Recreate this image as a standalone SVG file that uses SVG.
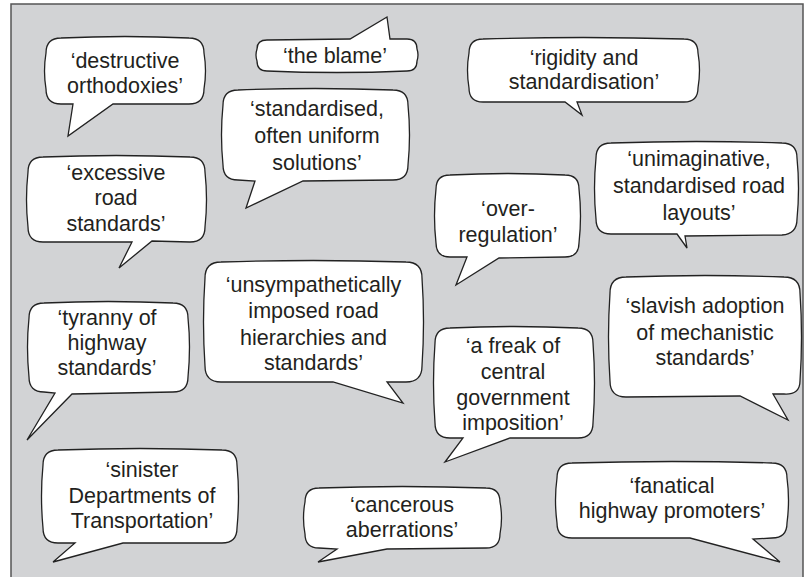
<svg xmlns="http://www.w3.org/2000/svg" width="805" height="577" viewBox="0 0 805 577">
<style>
.frame{fill:#d2d3d5;stroke:#555;stroke-width:1.5}
.bub{fill:#fff;stroke:#222;stroke-width:1.3;stroke-linejoin:miter}
.t{font-family:"Liberation Sans",Arial,Helvetica,sans-serif;font-size:21.5px;fill:#231f20;text-anchor:middle}
</style>
<rect class="frame" x="11" y="4" width="792" height="600"/>
<g id="connectors"/>
<g id="n1"><path class="bub" d="M61,38 Q125,35 189,38 Q204,38 204,53 Q207,71 204,89 Q204,104 189,104 L113,104 L68,136 L73,104 L61,104 Q46,104 46,89 Q43,71 46,53 Q46,38 61,38 Z"/>
<text class="t"><tspan x="125" y="68">‘destructive</tspan><tspan x="125" y="93">orthodoxies’</tspan></text></g>
<g id="n2"><path class="bub" d="M267,40 L350,39 L387,17 L390,39 L407,39 Q417,39 417,49 Q419,55 417,61 Q417,71 407,71 Q337,74 267,71 Q257,71 257,61 Q255,55 257,49 Q257,40 267,40 Z"/>
<text class="t"><tspan x="335" y="63">‘the blame’</tspan></text></g>
<g id="n3"><path class="bub" d="M483,39 Q583,36 684,39 Q698,39 698,53 Q701,70 698,88 Q698,102 684,102 L577,102 L582,115 L565,102 L483,102 Q469,102 469,88 Q466,70 469,53 Q469,39 483,39 Z"/>
<text class="t"><tspan x="584" y="65">‘rigidity and</tspan><tspan x="584" y="89">standardisation’</tspan></text></g>
<g id="n4"><path class="bub" d="M238,90 Q315,87 393,90 Q408,90 408,105 Q411,135 408,165 Q408,180 393,180 L303,181 L246,208 L255,181 L238,180 Q223,180 223,165 Q220,135 223,105 Q223,90 238,90 Z"/>
<text class="t"><tspan x="317" y="116">‘standardised,</tspan><tspan x="317" y="143">often uniform</tspan><tspan x="317" y="170">solutions’</tspan></text></g>
<g id="n5"><path class="bub" d="M43,157 Q116,154 190,157 Q205,157 205,172 Q208,200 205,227 Q205,242 190,242 L152,241 L119,268 L132,242 L43,242 Q28,242 28,227 Q25,200 28,172 Q28,157 43,157 Z"/>
<text class="t"><tspan x="116" y="180">‘excessive</tspan><tspan x="116" y="205">road</tspan><tspan x="116" y="231">standards’</tspan></text></g>
<g id="n6"><path class="bub" d="M450,175 Q507,172 565,175 Q579,175 579,189 Q582,216 579,243 Q579,257 565,257 L499,258 L456,285 L467,257 L450,257 Q436,257 436,243 Q433,216 436,189 Q436,175 450,175 Z"/>
<text class="t"><tspan x="508" y="216">‘over-</tspan><tspan x="508" y="242">regulation’</tspan></text></g>
<g id="n7"><path class="bub" d="M611,143 Q696,140 782,143 Q797,143 797,158 Q800,188 797,219 Q797,234 782,235 L685,236 L687,248 L677,234 L611,234 Q596,234 596,219 Q593,188 596,158 Q596,143 611,143 Z"/>
<text class="t"><tspan x="699" y="166">‘unimaginative,</tspan><tspan x="699" y="193">standardised road</tspan><tspan x="699" y="220">layouts’</tspan></text></g>
<g id="n8"><path class="bub" d="M44,303 Q108,300 173,303 Q188,303 188,318 Q191,347 188,377 Q188,392 173,392 L72,394 L27,440 L55,393 L44,392 Q29,392 29,377 Q26,347 29,318 Q29,303 44,303 Z"/>
<text class="t"><tspan x="107" y="325">‘tyranny of</tspan><tspan x="107" y="350">highway</tspan><tspan x="107" y="375">standards’</tspan></text></g>
<g id="n9"><path class="bub" d="M221,262 Q313,259 406,262 Q422,262 422,278 Q425,322 422,366 Q422,382 406,382 L387,382 L403,403 L333,382 L221,382 Q205,382 205,366 Q202,322 205,278 Q205,262 221,262 Z"/>
<text class="t"><tspan x="313.5" y="292">‘unsympathetically</tspan><tspan x="313.5" y="318">imposed road</tspan><tspan x="313.5" y="345">hierarchies and</tspan><tspan x="313.5" y="370">standards’</tspan></text></g>
<g id="n10"><path class="bub" d="M450,328 Q514,325 578,328 Q593,328 593,343 Q596,383 593,423 Q593,438 578,438 L510,438 L445,462 L463,438 L450,438 Q435,438 435,423 Q432,383 435,343 Q435,328 450,328 Z"/>
<text class="t"><tspan x="513" y="353">‘a freak of</tspan><tspan x="513" y="379">central</tspan><tspan x="513" y="405">government</tspan><tspan x="513" y="430">imposition’</tspan></text></g>
<g id="n11"><path class="bub" d="M626,277 Q705,274 784,277 Q800,277 800,293 Q803,337 800,381 Q800,395 784,394 L773,394 L788,420 L740,396 L626,397 Q610,397 610,381 Q607,337 610,293 Q610,277 626,277 Z"/>
<text class="t"><tspan x="705" y="313">‘slavish adoption</tspan><tspan x="705" y="340">of mechanistic</tspan><tspan x="705" y="365">standards’</tspan></text></g>
<g id="n12"><path class="bub" d="M58,450 Q140,447 222,450 Q237,450 237,465 Q240,496 237,528 Q237,543 222,543 L123,543 L53,562 L75,543 L58,543 Q43,543 43,528 Q40,496 43,465 Q43,450 58,450 Z"/>
<text class="t"><tspan x="142" y="477">‘sinister</tspan><tspan x="142" y="503">Departments of</tspan><tspan x="142" y="528">Transportation’</tspan></text></g>
<g id="n13"><path class="bub" d="M319,488 Q402,485 486,488 Q500,488 500,502 Q503,518 500,534 Q500,548 486,548 L387,549 L318,562 L337,549 L319,548 Q305,548 305,534 Q302,518 305,502 Q305,488 319,488 Z"/>
<text class="t"><tspan x="402" y="512">‘cancerous</tspan><tspan x="402" y="537">aberrations’</tspan></text></g>
<g id="n14"><path class="bub" d="M572,463 Q672,460 772,463 Q787,463 787,478 Q790,500 787,523 Q787,538 772,538 L753,539 L780,562 L690,538 L572,538 Q557,538 557,523 Q554,500 557,478 Q557,463 572,463 Z"/>
<text class="t"><tspan x="672" y="493">‘fanatical</tspan><tspan x="672" y="518">highway promoters’</tspan></text></g>
</svg>
